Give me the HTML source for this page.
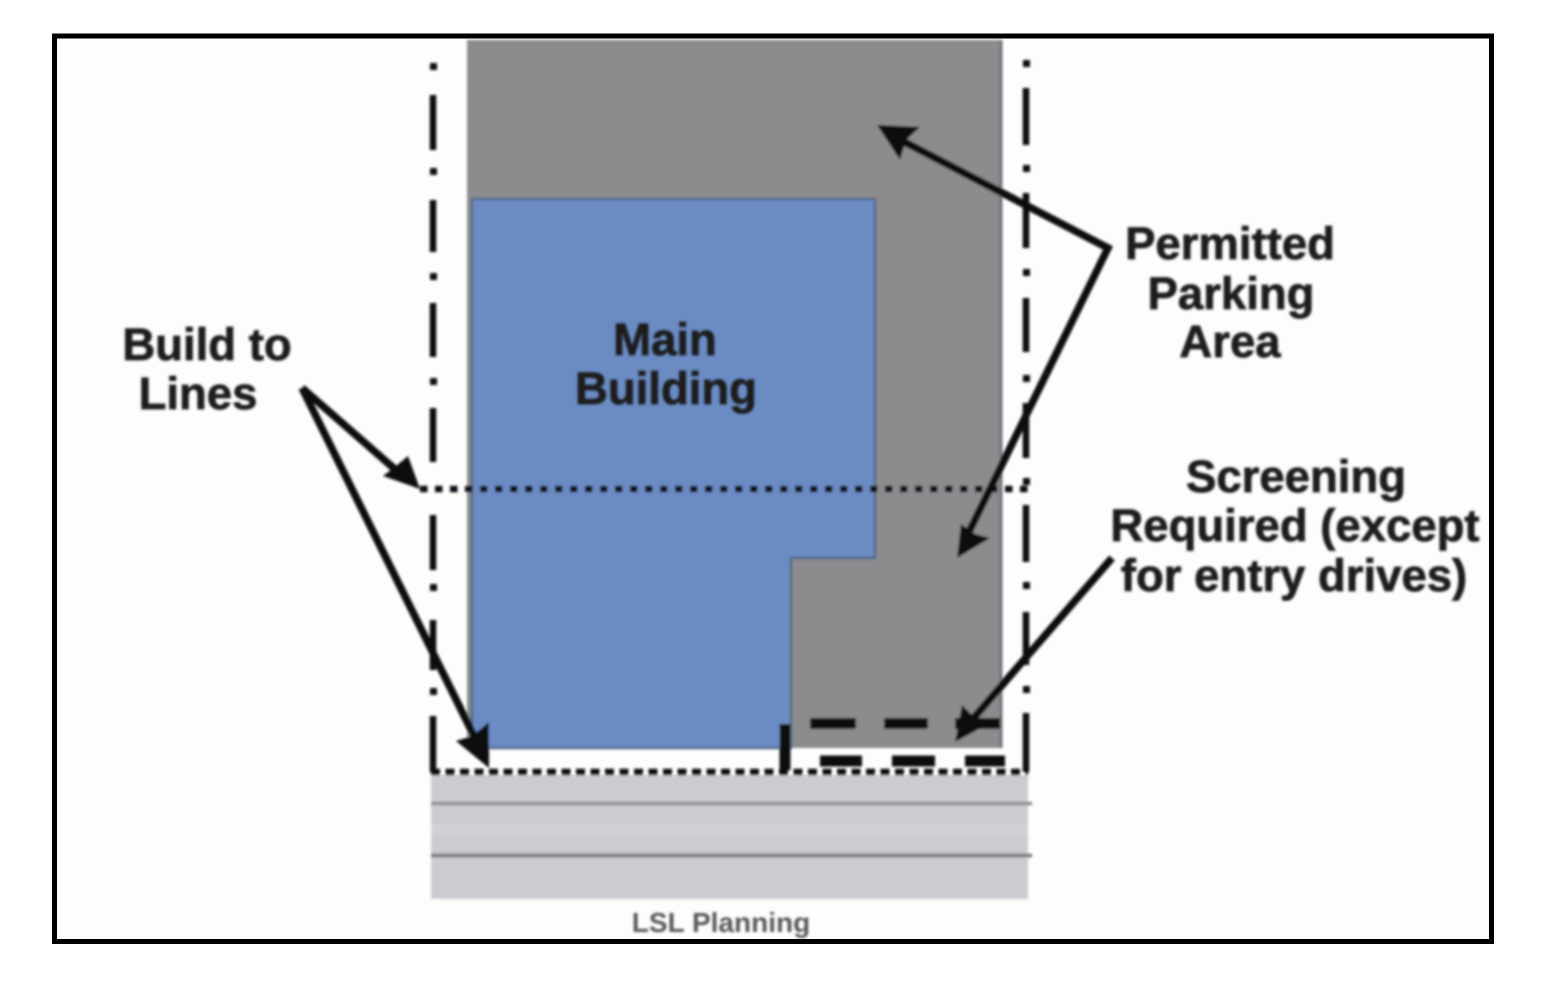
<!DOCTYPE html>
<html>
<head>
<meta charset="utf-8">
<style>
html,body{margin:0;padding:0;background:#fff;width:1547px;height:985px;overflow:hidden}
svg{display:block}
text{font-family:"Liberation Sans",sans-serif;font-weight:bold;fill:#1a1a1e;stroke:#1a1a1e;stroke-width:0.700;text-anchor:middle}
</style>
</head>
<body>
<svg width="1547" height="985" viewBox="0 0 1547 985" xmlns="http://www.w3.org/2000/svg">
<defs>
<filter id="b" x="-5%" y="-5%" width="110%" height="110%"><feGaussianBlur stdDeviation="1.2"/></filter>
<filter id="t" x="-5%" y="-20%" width="110%" height="140%"><feGaussianBlur stdDeviation="1.3"/></filter>
</defs>
<rect x="0" y="0" width="1547" height="985" fill="#ffffff"/>
<rect x="54.500" y="36" width="1437" height="905.500" fill="#fdfdfc" stroke="#000" stroke-width="5"/>
<g filter="url(#b)">
<rect x="467" y="40" width="535" height="708" fill="#8c8c8e"/>
<line x1="1001" y1="40" x2="1001" y2="748" stroke="#73737b" stroke-width="3"/>
<polygon points="472,199 875,199 875,558 791,558 791,748 472,748" fill="#6a8cc3" stroke="#55698a" stroke-width="2.500"/>
<rect x="431" y="775" width="597" height="124" fill="#cbccd0"/>
<rect x="431" y="824" width="597" height="12" fill="#d1d2d5"/>
<line x1="431" y1="803.500" x2="1032" y2="803.500" stroke="#8f9092" stroke-width="3.500"/>
<line x1="431" y1="855.500" x2="1032" y2="855.500" stroke="#808184" stroke-width="4"/>
<g stroke="#0c0c0e" stroke-width="6.500" fill="none">
<path d="M433 95V150M433 200V252M433 303V357M433 408V462M433 515V570M433 620V670M433 716V772" />
<path d="M1026 88V145M1026 193V248M1026 298V352M1026 403V458M1026 505V562M1026 612V665M1026 713V772" />
</g>
<g fill="#111">
<rect x="430" y="63" width="7" height="7"/><rect x="430" y="168" width="7" height="7"/><rect x="430" y="273" width="7" height="7"/><rect x="430" y="378" width="7" height="7"/><rect x="430" y="584" width="7" height="7"/><rect x="430" y="688" width="7" height="7"/>
<rect x="1023" y="60" width="7" height="7"/><rect x="1023" y="165" width="7" height="7"/><rect x="1023" y="269" width="7" height="7"/><rect x="1023" y="375" width="7" height="7"/><rect x="1023" y="478" width="7" height="7"/><rect x="1023" y="582" width="7" height="7"/><rect x="1023" y="686" width="7" height="7"/>
</g>
<line x1="420" y1="489" x2="1028" y2="489" stroke="#101014" stroke-width="6.500" stroke-dasharray="7.500 7.500"/>
<line x1="431" y1="772" x2="1028" y2="772" stroke="#0c0c0e" stroke-width="6.500" stroke-dasharray="9 5.500"/>
<line x1="785" y1="724" x2="785" y2="770" stroke="#0c0c0e" stroke-width="11"/>
<g stroke="#0c0c0e" stroke-width="11" fill="none">
<path d="M810 723.500H856M884 723.500H928M955 723.500H1000"/>
<path d="M820 761H862M892 761H935M965 761H1005"/>
</g>
<g stroke="#0e0e10" stroke-width="7.500" fill="none">
<path d="M895 137L1108 248L965 540"/>
<path d="M1112 558L965 728"/>
<path d="M302 388L405 478"/>
<path d="M302 388L482 752"/>
</g>
<g fill="#0a0a0c">
<polygon points="877,125 920,127 906,140 900,160"/>
<polygon points="957,558 961,524 975,534 990,538"/>
<polygon points="955,742 962,705 975,718 992,722"/>
<polygon points="420,489 383,476 396,466 408,456"/>
<polygon points="489,768 456,741 472,736 489,722"/>
</g>
</g>
<g filter="url(#t)">
<text x="1230" y="259" font-size="45.500">Permitted</text>
<text x="1231" y="309" font-size="45.500">Parking</text>
<text x="1230" y="357" font-size="45.500">Area</text>
<text x="207" y="360" font-size="45.500">Build to</text>
<text x="198" y="409" font-size="45.500">Lines</text>
<text x="665" y="355" font-size="45.500">Main</text>
<text x="666" y="404" font-size="45.500">Building</text>
<text x="1296" y="492" font-size="45.500">Screening</text>
<text x="1295" y="541" font-size="45.500">Required (except</text>
<text x="1294" y="591" font-size="45.500">for entry drives)</text>
<text x="721" y="932" font-size="28" style="fill:#5a5a5c;stroke:none">LSL Planning</text>
</g>
</svg>
</body>
</html>
